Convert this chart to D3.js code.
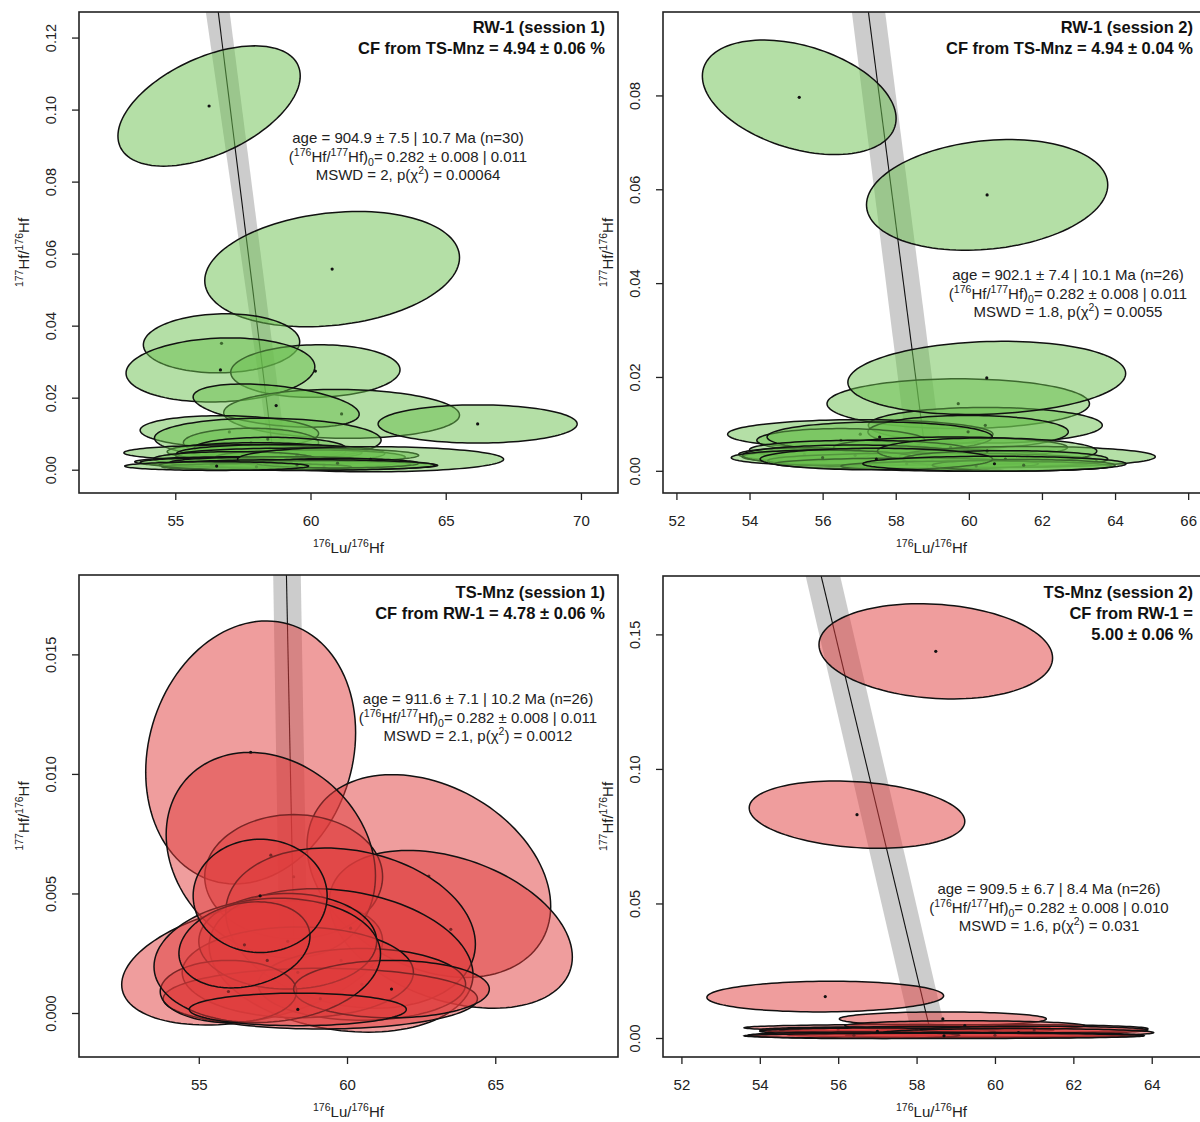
<!DOCTYPE html>
<meta charset="utf-8">
<style>
  body { margin: 0; background: #fff; }
  svg { font-family: "Liberation Sans", Arial, sans-serif; }
  .title { font-weight: bold; font-size: 16.5px; fill: #111; }
  .note { font-size: 15px; fill: #222; }
  .axlab { font-size: 15px; fill: #222; }
</style>
<svg width="1200" height="1122"></svg>
<script src="https://d3js.org/d3.v7.min.js"></script>
<script>
  var LAMBDA = 1.867e-5; // 176Lu decay constant (per Ma)

  // isochron fits read from the annotations
  var ages = [904.9, 902.1, 911.6, 909.5];
  var hf0 = [0.282, 0.282, 0.282, 0.282];

  // grey error envelope: x at y = 0 and at the top of each panel
  var bandBase = [[58.57, 59.18], [58.38, 59.32], [57.75, 58.70], [57.90, 58.78]];
  var bandTop = [[56.13, 57.01], [56.80, 57.71], [57.51, 58.44], [55.17, 56.05]];

  // RW-1 session 1  (centre, half extent of the error ellipse, correlation)
  var rw1s1X   = [56.25, 60.80, 56.71, 60.18, 56.67, 61.15, 66.18, 58.73, 57.00, 57.80, 58.42, 58.50, 58.00, 57.50, 58.90, 60.00, 59.50, 57.20, 57.50, 56.50, 59.00, 60.00, 62.22, 60.50, 58.00, 61.00, 59.50, 56.53];
  var rw1s1Ex  = [3.37, 4.71, 2.89, 3.13, 3.49, 4.36, 3.68, 3.07, 3.30, 2.50, 4.19, 2.80, 3.30, 4.40, 3.85, 3.50, 4.50, 3.00, 4.00, 2.80, 4.20, 3.70, 4.92, 4.20, 3.50, 3.00, 5.10, 3.40];
  var rw1s1Y   = [0.1010, 0.0557, 0.0351, 0.0274, 0.0277, 0.0155, 0.0127, 0.0178, 0.0105, 0.0075, 0.0085, 0.0060, 0.0050, 0.0047, 0.0045, 0.0035, 0.0040, 0.0030, 0.0022, 0.0020, 0.0020, 0.0015, 0.0029, 0.0012, 0.0008, 0.0018, 0.0013, 0.0010];
  var rw1s1Ey  = [0.0167, 0.0160, 0.0082, 0.0073, 0.0089, 0.0068, 0.0053, 0.0060, 0.0045, 0.0040, 0.0058, 0.0030, 0.0025, 0.0022, 0.0025, 0.0020, 0.0020, 0.0020, 0.0014, 0.0013, 0.0016, 0.0011, 0.0035, 0.0012, 0.0009, 0.0013, 0.0015, 0.0012];
  var rw1s1Rho = [0.5, 0.2, 0.05, 0.05, 0.1, -0.05, 0, -0.4, -0.1, 0, -0.05, 0, 0, 0, 0, 0, 0, 0, 0, 0, 0, 0, 0, 0, 0, 0, 0, 0];

  // RW-1 session 2
  var rw1s2X   = [55.36, 60.50, 59.71, 60.45, 60.49, 57.03, 59.98, 56.50, 57.56, 59.50, 57.00, 55.50, 58.00, 56.89, 61.60, 59.00, 56.00, 60.50, 61.00, 58.30, 60.20, 61.50, 57.47, 60.70];
  var rw1s2Ex  = [2.65, 3.30, 3.59, 3.20, 3.80, 3.63, 2.74, 2.30, 3.08, 3.20, 3.00, 1.80, 4.20, 3.08, 3.50, 4.50, 2.50, 3.00, 2.80, 3.60, 3.70, 2.50, 3.18, 3.60];
  var rw1s2Y   = [0.0796, 0.0588, 0.0143, 0.0097, 0.0198, 0.0078, 0.0083, 0.0065, 0.0072, 0.0050, 0.0045, 0.0035, 0.0030, 0.0033, 0.0030, 0.0022, 0.0028, 0.0042, 0.0025, 0.0015, 0.0010, 0.0012, 0.0025, 0.0015];
  var rw1s2Ey  = [0.0122, 0.0118, 0.0053, 0.0038, 0.0078, 0.0031, 0.0035, 0.0025, 0.0032, 0.0022, 0.0020, 0.0014, 0.0018, 0.0022, 0.0022, 0.0016, 0.0016, 0.0028, 0.0018, 0.0012, 0.0011, 0.0012, 0.0023, 0.0016];
  var rw1s2Rho = [-0.37, 0.18, 0, 0, 0.12, 0, 0, 0, 0, 0, 0, 0, 0, 0, 0, 0, 0, 0, 0, 0, 0, 0, 0, 0];

  // TS-Mnz session 1
  var tss1X   = [56.75, 62.76, 63.50, 58.20, 56.80, 57.43, 60.12, 59.80, 60.50, 58.34, 59.10, 58.00, 56.00, 61.50, 57.31, 58.34, 56.54, 57.07];
  var tss1Ex  = [3.54, 4.11, 4.10, 3.00, 4.40, 3.53, 4.21, 4.45, 3.50, 3.90, 5.30, 3.00, 2.30, 3.30, 3.82, 3.66, 2.21, 2.26];
  var tss1Y   = [0.0109, 0.00573, 0.0035, 0.0057, 0.0021, 0.0066, 0.00355, 0.0022, 0.0012, 0.0017, 0.0006, 0.0030, 0.0009, 0.0010, 0.0022, 0.00015, 0.00285, 0.0049];
  var tss1Ey  = [0.0055, 0.00424, 0.0033, 0.0026, 0.0026, 0.0043, 0.00335, 0.0030, 0.0015, 0.0019, 0.00127, 0.0020, 0.0013, 0.0012, 0.0026, 0.00068, 0.0018, 0.00237];
  var tss1Rho = [0.15, -0.3, -0.35, 0, 0.35, -0.2, -0.2, -0.2, 0, 0, 0, 0, 0, 0, 0.1, 0, 0.2, 0];

  // TS-Mnz session 2
  var tss2X   = [58.49, 56.48, 55.67, 58.67, 57.50, 60.50, 59.23, 56.00, 58.00, 57.00, 61.00, 60.60, 59.00, 60.00, 56.40, 58.70];
  var tss2Ex  = [2.98, 2.75, 3.02, 2.64, 3.90, 3.40, 3.06, 2.00, 3.50, 3.00, 2.90, 3.45, 4.30, 3.80, 2.70, 5.10];
  var tss2Y   = [0.1437, 0.0830, 0.0154, 0.0071, 0.0038, 0.0035, 0.0046, 0.0030, 0.0030, 0.0025, 0.0030, 0.0020, 0.0012, 0.0010, 0.0010, 0.0008];
  var tss2Ey  = [0.0177, 0.0125, 0.0057, 0.0026, 0.0012, 0.0015, 0.0018, 0.0010, 0.0012, 0.0012, 0.0014, 0.0015, 0.0009, 0.0010, 0.0012, 0.0010];
  var tss2Rho = [-0.14, -0.2, 0.05, 0, 0, 0, 0, 0, 0, 0, 0, 0, 0, 0, 0, 0];

  var panels = [
    { left: 79, right: 618, top: 12, bottom: 493,
      xDomain: [51.44, 71.37], yDomain: [-0.00647, 0.1271],
      xTicks: [55, 60, 65, 70], yTicks: [0, 0.02, 0.04, 0.06, 0.08, 0.10, 0.12], yDec: 2,
      xs: rw1s1X, ex: rw1s1Ex, ys: rw1s1Y, ey: rw1s1Ey, rho: rw1s1Rho, fill: "rgb(105,191,77)",
      titles: ["RW-1 (session 1)", "CF from TS-Mnz = 4.94 \u00b1 0.06 %"], titleY: 33,
      note: ["904.9", "7.5", "10.7", "30", "0.011", "2", "0.00064"], noteX: 408, noteY: 143 },
    { left: 663, right: 1201, top: 12, bottom: 493,
      xDomain: [51.633, 66.351], yDomain: [-0.00473, 0.09778],
      xTicks: [52, 54, 56, 58, 60, 62, 64, 66], yTicks: [0, 0.02, 0.04, 0.06, 0.08], yDec: 2,
      xs: rw1s2X, ex: rw1s2Ex, ys: rw1s2Y, ey: rw1s2Ey, rho: rw1s2Rho, fill: "rgb(105,191,77)",
      titles: ["RW-1 (session 2)", "CF from TS-Mnz = 4.94 \u00b1 0.04 %"], titleY: 33,
      note: ["902.1", "7.4", "10.1", "26", "0.011", "1.8", "0.0055"], noteX: 1068, noteY: 280 },
    { left: 79, right: 618, top: 575, bottom: 1057,
      xDomain: [50.96, 69.14], yDomain: [-0.00184, 0.01832],
      xTicks: [55, 60, 65], yTicks: [0, 0.005, 0.010, 0.015], yDec: 3,
      xs: tss1X, ex: tss1Ex, ys: tss1Y, ey: tss1Ey, rho: tss1Rho, fill: "rgb(224,60,60)",
      titles: ["TS-Mnz (session 1)", "CF from RW-1 = 4.78 \u00b1 0.06 %"], titleY: 598,
      note: ["911.6", "7.1", "10.2", "26", "0.011", "2.1", "0.0012"], noteX: 478, noteY: 704 },
    { left: 663, right: 1201, top: 576, bottom: 1057,
      xDomain: [51.53, 65.257], yDomain: [-0.00706, 0.1717],
      xTicks: [52, 54, 56, 58, 60, 62, 64], yTicks: [0, 0.05, 0.10, 0.15], yDec: 2,
      xs: tss2X, ex: tss2Ex, ys: tss2Y, ey: tss2Ey, rho: tss2Rho, fill: "rgb(224,60,60)",
      titles: ["TS-Mnz (session 2)", "CF from RW-1 =", "5.00 \u00b1 0.06 %"], titleY: 598,
      note: ["909.5", "6.7", "8.4", "26", "0.010", "1.6", "0.031"], noteX: 1049, noteY: 894 }
  ];

  var svg = d3.select("svg");
  var defs = svg.append("defs");

  // text made of plain / superscript / subscript pieces
  function rich(sel, parts) {
    var shift = 0;
    parts.forEach(function(p) {
      var want = p[1] === "sup" ? -6 : p[1] === "sub" ? 4 : 0;
      var t = sel.append("tspan").attr("dy", want - shift).text(p[0]);
      if (p[1]) t.style("font-size", "10.5px");
      shift = want;
    });
    return sel;
  }

  panels.forEach(function(p, k) {
    var x = d3.scaleLinear().domain(p.xDomain).range([p.left, p.right]);
    var y = d3.scaleLinear().domain(p.yDomain).range([p.bottom, p.top]);
    var yt = p.yDomain[1];

    defs.append("clipPath").attr("id", "clip" + k)
      .append("rect")
      .attr("x", p.left).attr("y", p.top)
      .attr("width", p.right - p.left).attr("height", p.bottom - p.top);

    var plot = svg.append("g").attr("clip-path", "url(#clip" + k + ")");
    var path = d3.line().x(function(d) { return x(d[0]); }).y(function(d) { return y(d[1]); });

    // error envelope of the isochron
    plot.append("path")
      .datum([[bandBase[k][0], 0], [bandBase[k][1], 0], [bandTop[k][1], yt], [bandTop[k][0], yt]])
      .attr("d", path.curve(d3.curveLinearClosed))
      .attr("fill", "#999")
      .attr("fill-opacity", 0.5);

    // isochron: y = (1 - x*(exp(lambda*t)-1)) / (176Hf/177Hf)0
    var D = Math.exp(LAMBDA * ages[k]) - 1;
    plot.append("path")
      .datum([[1 / D, 0], [(1 - yt * hf0[k]) / D, yt]])
      .attr("d", path.curve(d3.curveLinear))
      .attr("fill", "none")
      .attr("stroke", "#111")
      .attr("stroke-width", 1.1);

    // error ellipses, each with its centre dot
    p.xs.forEach(function(cx, i) {
      var ax = p.ex[i], cy = p.ys[i], ay = p.ey[i], r = p.rho[i];
      var s = Math.sqrt(1 - r * r);
      var pts = d3.range(0, 120).map(function(j) {
        var t = 2 * Math.PI * j / 120;
        return [cx + ax * Math.cos(t), cy + ay * (r * Math.cos(t) + s * Math.sin(t))];
      });
      plot.append("path")
        .datum(pts)
        .attr("d", path.curve(d3.curveLinearClosed))
        .attr("fill", p.fill)
        .attr("fill-opacity", 0.5)
        .attr("stroke", "#111")
        .attr("stroke-width", 1.5);
      plot.append("circle")
        .attr("cx", x(cx)).attr("cy", y(cy)).attr("r", 1.6)
        .attr("fill", "#111");
    });

    // frame
    svg.append("rect")
      .attr("x", p.left).attr("y", p.top)
      .attr("width", p.right - p.left).attr("height", p.bottom - p.top)
      .attr("fill", "none").attr("stroke", "#222").attr("stroke-width", 1.6);

    var xAxis = svg.append("g")
      .attr("transform", "translate(0," + p.bottom + ")")
      .call(d3.axisBottom(x).tickValues(p.xTicks).tickSize(7).tickPadding(15).tickFormat(d3.format("d")));
    xAxis.select(".domain").remove();
    xAxis.selectAll("line").attr("stroke", "#222").attr("stroke-width", 1.3);
    xAxis.selectAll("text").attr("fill", "#222").style("font-size", "15px").style("font-family", "Liberation Sans, Arial, sans-serif");

    var yAxis = svg.append("g")
      .attr("transform", "translate(" + p.left + ",0)")
      .call(d3.axisLeft(y).tickValues(p.yTicks).tickSize(7).tickFormat(function(d) { return d.toFixed(p.yDec); }));
    yAxis.select(".domain").remove();
    yAxis.selectAll("line").attr("stroke", "#222").attr("stroke-width", 1.3);
    yAxis.selectAll("text")
      .attr("fill", "#222").style("font-size", "14.5px").style("font-family", "Liberation Sans, Arial, sans-serif")
      .attr("transform", "rotate(-90)")
      .attr("x", 0).attr("y", -23).attr("dy", 0)
      .attr("text-anchor", "middle");

    // axis titles
    var midX = (p.left + Math.min(p.right, 1200)) / 2;
    rich(svg.append("text").attr("class", "axlab")
      .attr("x", midX).attr("y", p.bottom + 60).attr("text-anchor", "middle"),
      [["176", "sup"], ["Lu/", ""], ["176", "sup"], ["Hf", ""]]);
    var midY = (p.top + p.bottom) / 2;
    rich(svg.append("text").attr("class", "axlab")
      .attr("transform", "translate(" + (p.left - 50) + "," + midY + ") rotate(-90)")
      .attr("text-anchor", "middle"),
      [["177", "sup"], ["Hf/", ""], ["176", "sup"], ["Hf", ""]]);

    // sample title
    p.titles.forEach(function(t, j) {
      svg.append("text").attr("class", "title")
        .attr("x", (k % 2 ? 1193 : 605)).attr("y", p.titleY + j * 21)
        .attr("text-anchor", "end")
        .text(t);
    });

    // isochron annotation
    var n = p.note;
    svg.append("text").attr("class", "note")
      .attr("x", p.noteX).attr("y", p.noteY).attr("text-anchor", "middle")
      .text("age = " + n[0] + " \u00b1 " + n[1] + " | " + n[2] + " Ma (n=" + n[3] + ")");
    rich(svg.append("text").attr("class", "note")
      .attr("x", p.noteX).attr("y", p.noteY + 18.7).attr("text-anchor", "middle"),
      [["(", ""], ["176", "sup"], ["Hf/", ""], ["177", "sup"], ["Hf)", ""], ["0", "sub"], ["= 0.282 \u00b1 0.008 | " + n[4], ""]]);
    rich(svg.append("text").attr("class", "note")
      .attr("x", p.noteX).attr("y", p.noteY + 37.4).attr("text-anchor", "middle"),
      [["MSWD = " + n[5] + ", p(\u03c7", ""], ["2", "sup"], [") = " + n[6], ""]]);
  });
</script>
